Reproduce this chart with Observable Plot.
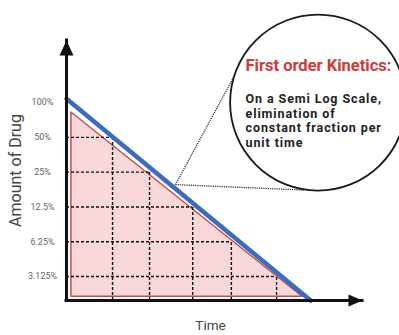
<!DOCTYPE html>
<html>
<head>
<meta charset="utf-8">
<script src="https://cdn.jsdelivr.net/npm/d3@7"></script>
<script src="https://cdn.jsdelivr.net/npm/@observablehq/plot@0.6"></script>
<style>
  html, body { margin: 0; padding: 0; background: #fff; }
  #chart svg { display: block; }
</style>
</head>
<body>
<div id="chart"></div>
<script>
// ---- data ----
const tickValues = [100, 50, 25, 12.5, 6.25, 3.125];
const tickLabels = ["100%", "50%", "25%", "12.5%", "6.25%", "3.125%"];

// dashed "half-life" staircase: level reached at each time
const gridLevels = [50, 25, 12.5, 6.25, 3.125];
const gridTimes = [1.12, 2.02, 3.07, 4.01, 5.11];

// blue elimination line (amount %, time)
const drugTimes = [0, 5.94];
const drugAmounts = [108, 1.94];

// pink triangle under the line
const areaTimes = [0.12, 5.74];
const areaTops = [82, 2.09];
const areaBase = 2.09;

// axes extents
const timeMax = 7.2;
const amountMin = 1.94;
const amountMax = 344;

// callout
const calloutFrom = {t: 2.65, v: 19.5};
const calloutTo = [{t: 4.06, v: 164.6}, {t: 5.77, v: 17.5}];
const calloutCenter = {t: 6.12, v: 100};
const calloutTitle = "First order Kinetics:";
const calloutBody = ["On a Semi Log Scale,", "elimination of", "constant fraction per", "unit time"];
const titleAt = {t: 4.355, v: 210};
const bodyAt = {t: 4.355, v: 122};

const xTitle = "Time";
const yTitle = "Amount of Drug";

// ---- tables built from the arrays ----
const ticks = tickValues.map((v, i) => ({v, label: tickLabels[i]}));
const grid = gridLevels.map((level, i) => ({level, t: gridTimes[i], t0: 0, base: amountMin}));
const drug = drugTimes.map((t, i) => ({t, v: drugAmounts[i]}));
const tri = areaTimes.map((t, i) => ({t, top: areaTops[i], base: areaBase}));
const links = calloutTo.map(d => ({t1: calloutFrom.t, v1: calloutFrom.v, t2: d.t, v2: d.v}));
const yAxisRow = [{t: 0, v1: amountMin, v2: amountMax}];
const xAxisRow = [{v: amountMin, t1: 0, t2: timeMax}];

// arrowhead symbols (tip at the anchor point)
const upHead = {draw(ctx) { ctx.moveTo(0, 0); ctx.lineTo(-7, 15); ctx.lineTo(7, 15); ctx.closePath(); }};
const rightHead = {draw(ctx) { ctx.moveTo(0, 0); ctx.lineTo(-14, -6); ctx.lineTo(-14, 6); ctx.closePath(); }};

const axisColor = "#111";
const dash = {stroke: "#111", strokeWidth: 1.4, strokeDasharray: "3,2"};

const chart = Plot.plot({
  width: 399,
  height: 335,
  marginLeft: 66,
  marginRight: 37,
  marginTop: 40,
  marginBottom: 35,
  style: {fontFamily: "Roboto, sans-serif", background: "white", overflow: "visible"},
  x: {domain: [0, timeMax], axis: null},
  y: {type: "log", domain: [amountMin, amountMax], axis: null},
  marks: [
    Plot.areaY(tri, {x: "t", y1: "base", y2: "top", fill: "#f8d8d8", stroke: "#c0504d", strokeWidth: 1.5, curve: "linear"}),
    Plot.ruleY(grid, {y: "level", x1: "t0", x2: "t", ...dash}),
    Plot.ruleX(grid, {x: "t", y1: "base", y2: "level", ...dash}),
    Plot.line(drug, {x: "t", y: "v", stroke: "#3a6cc0", strokeWidth: 4.5}),
    // axes
    Plot.ruleX(yAxisRow, {x: "t", y1: "v1", y2: "v2", stroke: axisColor, strokeWidth: 3, strokeLinecap: "square"}),
    Plot.ruleY(xAxisRow, {y: "v", x1: "t1", x2: "t2", stroke: axisColor, strokeWidth: 3, strokeLinecap: "square"}),
    Plot.dot([{t: 0, v: amountMax}], {x: "t", y: "v", symbol: upHead, fill: axisColor, stroke: "none"}),
    Plot.dot([{t: timeMax, v: amountMin}], {x: "t", y: "v", symbol: rightHead, fill: axisColor, stroke: "none"}),
    // tick labels
    Plot.text(ticks, {x: () => 0, y: "v", text: "label", dx: -24, textAnchor: "middle", fontSize: 9, fill: "#666"}),
    // axis titles
    Plot.text([yTitle], {frameAnchor: "left", dx: -51, rotate: -90, textAnchor: "middle", fontSize: 16, fill: "#444"}),
    Plot.text([xTitle], {frameAnchor: "bottom", dx: -4, dy: 29, fontSize: 13.5, fill: "#444"}),
    // callout
    Plot.link(links, {x1: "t1", y1: "v1", x2: "t2", y2: "v2", stroke: "#333", strokeWidth: 1.3, strokeDasharray: "1.2,1"}),
    Plot.dot([calloutCenter], {x: "t", y: "v", r: 88, fill: "white", stroke: "#1a1a1a", strokeWidth: 1.8}),
    Plot.text([calloutTitle], {x: () => titleAt.t, y: () => titleAt.v, textAnchor: "start", fontSize: 16.5, fontWeight: "bold", fill: "#d03a3a"}),
    Plot.text([calloutBody.join("\n")], {x: () => bodyAt.t, y: () => bodyAt.v, textAnchor: "start", lineAnchor: "top", lineHeight: 1.17, fontSize: 12.5, fontWeight: "bold", fill: "#222"})
  ]
});
// slightly wider tracking for the callout body text
d3.select(chart).selectAll("text")
  .filter(function () { return this.textContent.startsWith("On a Semi"); })
  .style("letter-spacing", "0.9px");
document.getElementById("chart").appendChild(chart);
</script>
</body>
</html>
